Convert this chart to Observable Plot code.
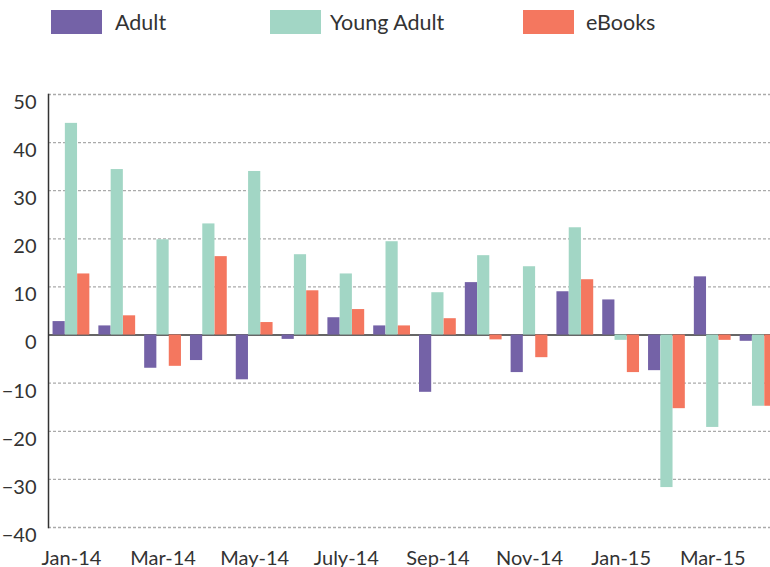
<!DOCTYPE html>
<html>
<head>
<meta charset="utf-8">
<script src="https://cdn.jsdelivr.net/npm/d3@7"></script>
<script src="https://cdn.jsdelivr.net/npm/@observablehq/plot@0.6"></script>
<style>
  html, body { margin: 0; padding: 0; background: #fff; overflow: hidden; }
  body { width: 770px; height: 567px; font-family: Lato, "Open Sans", sans-serif; color: #333; }
  #legend { position: relative; height: 47px; width: 770px; }
  .sw { position: absolute; top: 10px; width: 51px; height: 24px; }
  .lb { position: absolute; top: 7px; font-size: 21.5px; line-height: 30px; color: #333; white-space: nowrap; }
  #chart svg { display: block; }
</style>
</head>
<body>
<div id="legend"></div>
<div id="chart"></div>
<script>
const months = ["Jan-14","Feb-14","Mar-14","Apr-14","May-14","June-14","July-14","Aug-14","Sep-14","Oct-14","Nov-14","Dec-14","Jan-15","Feb-15","Mar-15","Apr-15"];
const seriesNames = ["Adult", "Young Adult", "eBooks"];
const seriesColors = ["#7462a7", "#a2d6c5", "#f4775f"];
const adult = [2.8, 1.9, -6.9, -5.3, -9.3, -0.9, 3.6, 1.9, -11.9, 10.9, -7.8, 9.0, 7.3, -7.4, 12.1, -1.3];
const youngAdult = [44.0, 34.4, 19.8, 23.1, 34.0, 16.7, 12.7, 19.4, 8.8, 16.5, 14.2, 22.3, -1.1, -31.7, -19.2, -14.8];
const ebooks = [12.7, 4.0, -6.5, 16.3, 2.6, 9.2, 5.3, 1.9, 3.4, -1.0, -4.7, 11.5, -7.8, -15.3, -1.1, -14.8];
const xTickLabels = ["Jan-14","Mar-14","May-14","July-14","Sep-14","Nov-14","Jan-15","Mar-15"];
const yTicks = [-40, -30, -20, -10, 0, 10, 20, 30, 40, 50];

// Legend (HTML, above the SVG)
const legend = document.getElementById("legend");
const swLeft = [51, 270, 523];
const lbLeft = [115, 330, 586];
seriesNames.forEach((name, i) => {
  const sw = document.createElement("div");
  sw.className = "sw";
  sw.style.left = swLeft[i] + "px";
  sw.style.background = seriesColors[i];
  legend.appendChild(sw);
  const lb = document.createElement("div");
  lb.className = "lb";
  lb.style.left = lbLeft[i] + "px";
  lb.textContent = name;
  legend.appendChild(lb);
});

const seriesValues = [adult, youngAdult, ebooks];
const tables = seriesValues.map(vals => months.map((m, i) => ({month: m, value: vals[i]})));
const offsets = [-12.3, 0, 12.3];

const chart = Plot.plot({
  width: 790,
  height: 520,
  marginTop: 47,
  marginBottom: 40,
  marginLeft: 48,
  marginRight: 9,
  style: {fontFamily: "Lato, 'Open Sans', sans-serif", fontSize: "20px", color: "#333", maxWidth: "none", background: "#fff"},
  x: {domain: months, paddingInner: 0.734, paddingOuter: 0.368, round: false},
  y: {domain: [-40, 50]},
  marks: [
    Plot.ruleY(yTicks.filter(d => d !== 0), {stroke: "#aaa", strokeWidth: 1.3, strokeDasharray: "3,2"}),
    Plot.ruleY([0], {stroke: "#333", strokeWidth: 1.5}),
    ...tables.map((t, i) => Plot.barY(t, {x: "month", y: "value", fill: seriesColors[i], dx: offsets[i]})),
    Plot.frame({anchor: "left", stroke: "#333", strokeWidth: 1.5}),
    Plot.axisY({ticks: yTicks, tickSize: 0, tickPadding: 12, dy: 8, label: null, fontSize: 20}),
    Plot.axisX({ticks: xTickLabels, tickSize: 0, tickPadding: 23, label: null, fontSize: 20})
  ]
});
document.getElementById("chart").appendChild(chart);
</script>
</body>
</html>
